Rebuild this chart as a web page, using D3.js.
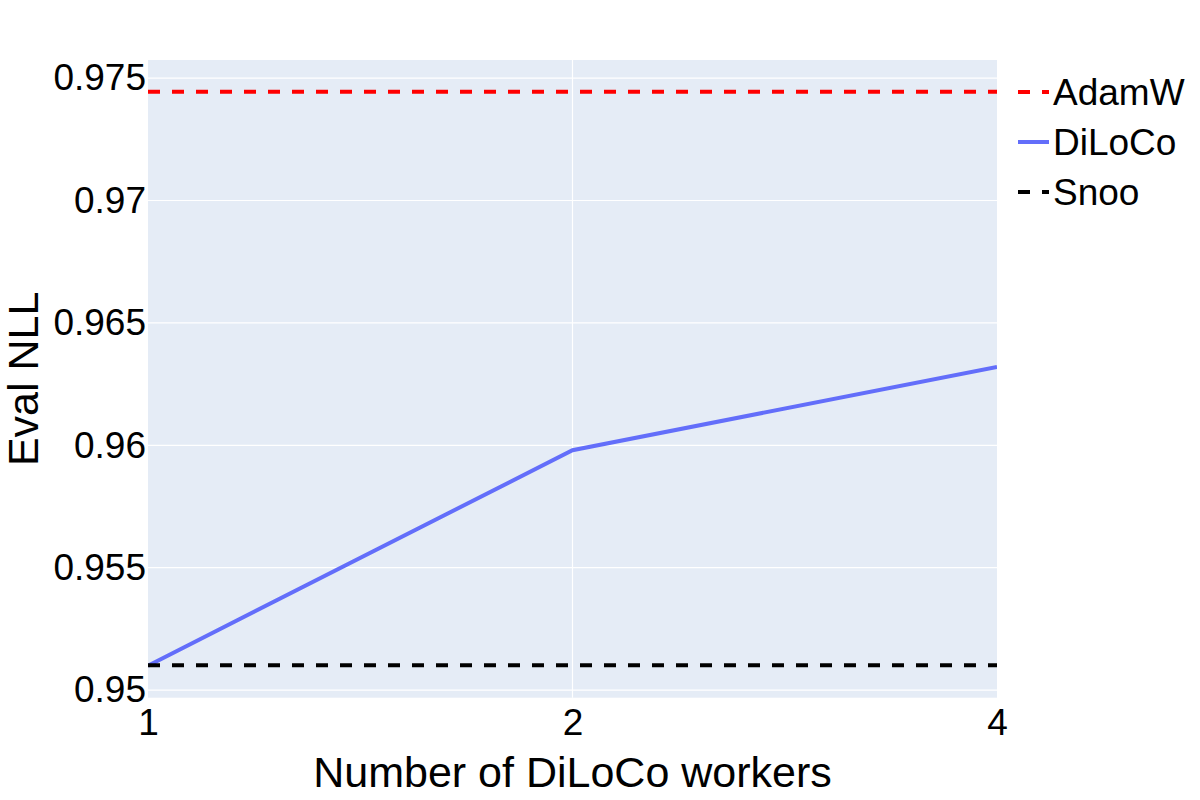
<!DOCTYPE html>
<html>
<head>
<meta charset="utf-8">
<script src="https://cdn.jsdelivr.net/npm/d3@7"></script>
<style>
  body { margin: 0; background: #fff; }
  svg { display: block; font-family: "Liberation Sans", Arial, sans-serif; }
</style>
</head>
<body>
<svg id="chart" width="1200" height="800"></svg>
<script>
// values
var workers = [1, 2, 4];
var adamwNll = [0.97444, 0.97444, 0.97444];
var dilocoNll = [0.9510, 0.9598, 0.9632];
var snooNll = [0.95102, 0.95102, 0.95102];
var yTicks = [0.95, 0.955, 0.96, 0.965, 0.97, 0.975];
var xTicks = [1, 2, 4];

var series = [
  { name: 'AdamW', values: adamwNll, colour: '#ff0000', dash: '12,12' },
  { name: 'DiLoCo', values: dilocoNll, colour: '#636efa', dash: null },
  { name: 'Snoo', values: snooNll, colour: '#000000', dash: '12,12' }
];

var plot = { left: 148, right: 997, top: 60, bottom: 697.7 };

var svg = d3.select('#chart');

var x = d3.scaleLog().base(2)
          .domain([1, 4])
          .range([plot.left, plot.right]);

var y = d3.scaleLinear()
          .domain([0.94969, 0.97574])
          .range([plot.bottom, plot.top]);

svg.append('rect')
   .attr('x', plot.left).attr('y', plot.top)
   .attr('width', plot.right - plot.left)
   .attr('height', plot.bottom - plot.top)
   .attr('fill', '#e5ecf6');

svg.append('clipPath').attr('id', 'clip')
   .append('rect')
   .attr('x', plot.left).attr('y', plot.top)
   .attr('width', plot.right - plot.left)
   .attr('height', plot.bottom - plot.top);

// grid
svg.append('g')
   .selectAll('line')
   .data(yTicks)
   .enter().append('line')
   .attr('x1', plot.left).attr('x2', plot.right)
   .attr('y1', function(d) { return y(d); })
   .attr('y2', function(d) { return y(d); })
   .attr('stroke', '#fff').attr('stroke-width', 1.2);

svg.append('g')
   .selectAll('line')
   .data(xTicks.filter(function(d) { return d > 1 && d < 4; }))
   .enter().append('line')
   .attr('x1', function(d) { return x(d); })
   .attr('x2', function(d) { return x(d); })
   .attr('y1', plot.top).attr('y2', plot.bottom)
   .attr('stroke', '#fff').attr('stroke-width', 1.2);

// axes (labels only, plotly style)
var yAxis = d3.axisLeft(y).tickValues(yTicks).tickSize(0).tickPadding(2)
              .tickFormat(function(d) { return String(+d.toFixed(3)); });
var gy = svg.append('g').attr('transform', 'translate(' + plot.left + ',0)').call(yAxis);
gy.select('.domain').remove();
gy.selectAll('text').attr('font-size', 37).attr('fill', '#000')
  .attr('font-family', '"Liberation Sans", Arial, sans-serif');

var xAxis = d3.axisBottom(x).tickValues(xTicks).tickSize(0).tickPadding(11)
              .tickFormat(d3.format('d'));
var gx = svg.append('g').attr('transform', 'translate(0,' + plot.bottom + ')').call(xAxis);
gx.select('.domain').remove();
gx.selectAll('text').attr('font-size', 37).attr('fill', '#000')
  .attr('font-family', '"Liberation Sans", Arial, sans-serif');

// lines
var line = d3.line()
             .x(function(d, i) { return x(workers[i]); })
             .y(function(d) { return y(d); });

svg.append('g').attr('clip-path', 'url(#clip)')
   .selectAll('path')
   .data(series)
   .enter().append('path')
   .attr('d', function(s) { return line(s.values); })
   .attr('fill', 'none')
   .attr('stroke', function(s) { return s.colour; })
   .attr('stroke-width', 4)
   .attr('stroke-dasharray', function(s) { return s.dash; });

// axis titles
svg.append('text')
   .attr('x', (plot.left + plot.right) / 2).attr('y', 787)
   .attr('text-anchor', 'middle').attr('font-size', 43)
   .text('Number of DiLoCo workers');

svg.append('text')
   .attr('transform', 'translate(38,' + (plot.top + plot.bottom) / 2 + ') rotate(-90)')
   .attr('text-anchor', 'middle').attr('font-size', 43)
   .text('Eval NLL');

// legend
var legend = svg.append('g').attr('transform', 'translate(1018,92)');
var items = legend.selectAll('g')
                  .data(series)
                  .enter().append('g')
                  .attr('transform', function(d, i) { return 'translate(0,' + i * 50 + ')'; });
items.append('line')
     .attr('x1', 0).attr('x2', 31).attr('y1', 0).attr('y2', 0)
     .attr('stroke', function(s) { return s.colour; })
     .attr('stroke-width', 4)
     .attr('stroke-dasharray', function(s) { return s.dash; });
items.append('text')
     .attr('x', 35).attr('y', 13)
     .attr('font-size', 37)
     .text(function(s) { return s.name; });
</script>
</body>
</html>
